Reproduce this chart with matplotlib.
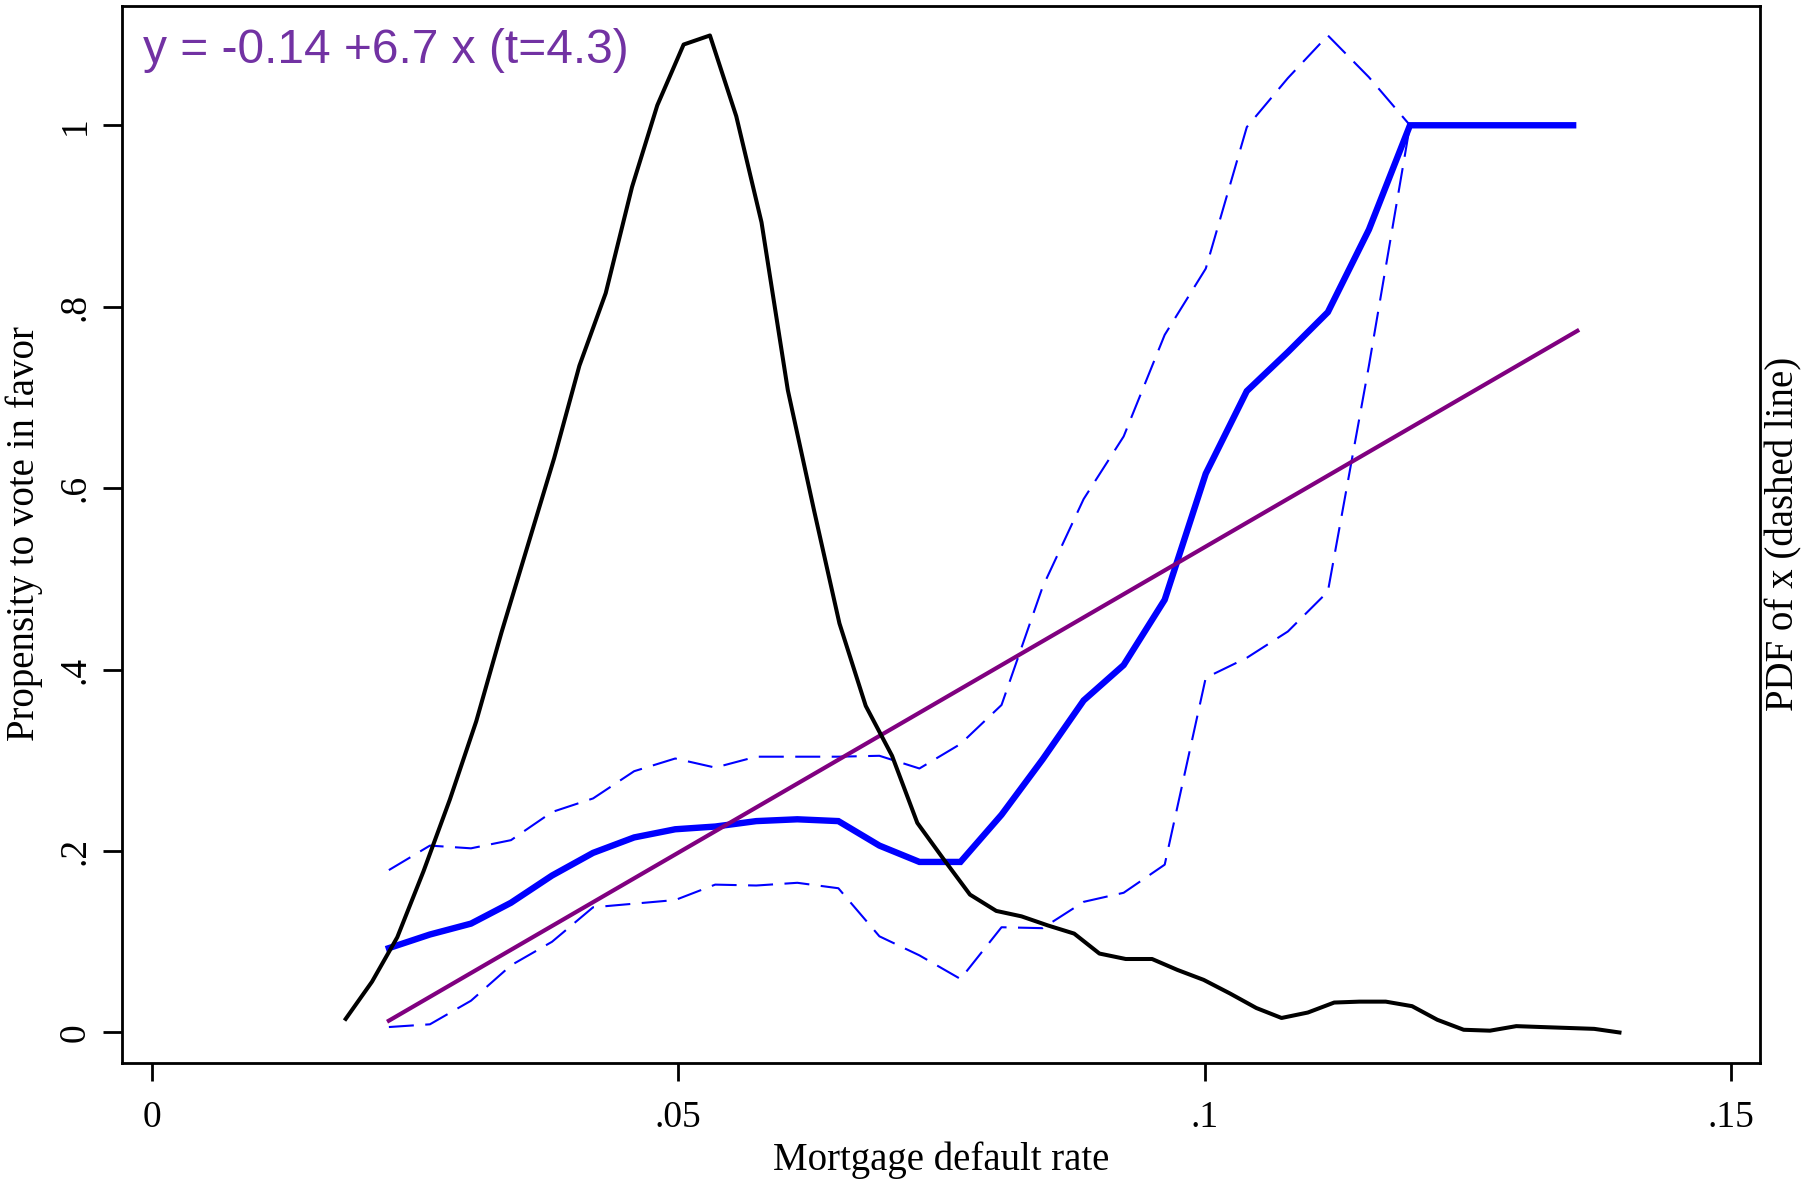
import matplotlib
matplotlib.use("Agg")
import matplotlib.pyplot as plt

# ---- data ----
# grid of the local regression (blue) and its confidence band
blue_x = [0.0225, 0.0264, 0.0303, 0.0341, 0.0380, 0.0419, 0.0458, 0.0497,
          0.0535, 0.0574, 0.0613, 0.0652, 0.0691, 0.0729, 0.0768, 0.0807,
          0.0846, 0.0885, 0.0923, 0.0962, 0.1001, 0.1040, 0.1079, 0.1117,
          0.1156, 0.1195, 0.1234, 0.1273, 0.1311, 0.1350]
blue_mid = [0.093, 0.108, 0.120, 0.143, 0.173, 0.198, 0.215, 0.224,
            0.227, 0.233, 0.235, 0.233, 0.206, 0.188, 0.188, 0.240,
            0.301, 0.366, 0.405, 0.477, 0.616, 0.707, 0.750, 0.794,
            0.885, 1.000, 1.000, 1.000, 1.000, 1.000]
band_upper = [0.179, 0.206, 0.203, 0.212, 0.243, 0.258, 0.288, 0.302,
              0.292, 0.304, 0.304, 0.304, 0.305, 0.291, 0.318, 0.361,
              0.491, 0.588, 0.657, 0.769, 0.842, 0.998, 1.052, 1.099,
              1.053, 1.000]
band_lower = [0.006, 0.009, 0.035, 0.074, 0.100, 0.138, 0.142, 0.146,
              0.163, 0.162, 0.165, 0.159, 0.106, 0.085, 0.059, 0.116,
              0.115, 0.144, 0.154, 0.185, 0.391, 0.413, 0.442, 0.486,
              0.735, 1.000]

# linear fit, drawn between the ends of the grid
fit_x = [0.0225, 0.1354]
fit_y = [0.0130, 0.7734]
fit_text = "y = -0.14 +6.7 x (t=4.3)"

# density of x (black), in left-axis units
pdf_x = [0.0184, 0.0209, 0.0233, 0.0258, 0.0283, 0.0308, 0.0332, 0.0357,
         0.0382, 0.0406, 0.0431, 0.0456, 0.0480, 0.0505, 0.0530, 0.0555,
         0.0579, 0.0604, 0.0629, 0.0653, 0.0678, 0.0703, 0.0727, 0.0752,
         0.0777, 0.0802, 0.0826, 0.0851, 0.0876, 0.0900, 0.0925, 0.0950,
         0.0974, 0.0999, 0.1024, 0.1049, 0.1073, 0.1098, 0.1123, 0.1147,
         0.1172, 0.1197, 0.1221, 0.1246, 0.1271, 0.1296, 0.1320, 0.1345,
         0.1370, 0.1394]
pdf_y = [0.015, 0.056, 0.105, 0.178, 0.257, 0.343, 0.441, 0.537,
         0.633, 0.735, 0.815, 0.932, 1.022, 1.089, 1.099, 1.010,
         0.893, 0.708, 0.575, 0.451, 0.360, 0.305, 0.231, 0.191,
         0.152, 0.134, 0.128, 0.118, 0.109, 0.087, 0.081, 0.081,
         0.069, 0.058, 0.043, 0.027, 0.016, 0.022, 0.033, 0.034,
         0.034, 0.029, 0.014, 0.003, 0.002, 0.007, 0.006, 0.005,
         0.004, 0.000]

x_ticks = [0, 0.05, 0.10, 0.15]
x_tick_labels = ["0", ".05", ".1", ".15"]
y_ticks = [0, 0.2, 0.4, 0.6, 0.8, 1.0]
y_tick_labels = ["0", ".2", ".4", ".6", ".8", "1"]

serif = "Liberation Serif"
blue = "#0000ff"
purple = "#800080"

fig = plt.figure(figsize=(18.19, 11.81), dpi=100)
ax = fig.add_axes([0.06696, 0.10025, 0.9006, 0.89484])

# confidence band, then the smooth, then the fit
ax.plot(blue_x[:len(band_upper)], band_upper, color=blue, lw=1.5, dashes=(12, 5.5))
ax.plot(blue_x[:len(band_lower)], band_lower, color=blue, lw=1.5, dashes=(12, 5.5))
ax.plot(blue_x, blue_mid, color=blue, lw=4.6, solid_joinstyle="miter")
ax.plot(fit_x, fit_y, color=purple, lw=3.0)

ax.set_xlim(-0.00287, 0.15275)
ax.set_ylim(-0.0332, 1.1317)
ax.set_xticks(x_ticks)
ax.set_xticklabels(x_tick_labels, fontfamily=serif, fontsize=27)
ax.set_yticks(y_ticks)
ax.set_yticklabels(y_tick_labels, fontfamily=serif, fontsize=27,
                   rotation=90, va="center")
ax.tick_params(axis="x", direction="out", length=13, width=2, pad=14)
ax.tick_params(axis="y", direction="out", length=14, width=2, pad=7)
for s in ax.spines.values():
    s.set_linewidth(2)

# density on its own (unlabelled) right axis
ax2 = ax.twinx()
ax2.set_ylim(ax.get_ylim())
ax2.set_yticks([])
ax2.plot(pdf_x, pdf_y, color="black", lw=2.9)

ax.text(0.01276, 0.9456, fit_text, transform=ax.transAxes, va="baseline",
        ha="left", color="#7232a3", fontsize=34.5, fontfamily="Liberation Sans")

fig.text(0.5173, 0.0093, "Mortgage default rate", ha="center", va="baseline",
         fontfamily=serif, fontsize=28)
fig.text(0.01341, 0.5478, "Propensity to vote in favor", rotation=90,
         ha="center", va="center", fontfamily=serif, fontsize=28)
fig.text(0.98076, 0.5478, "PDF of x (dashed line)", rotation=90,
         ha="center", va="center", fontfamily=serif, fontsize=28)

fig.savefig("out.png", dpi=100, facecolor="white")
